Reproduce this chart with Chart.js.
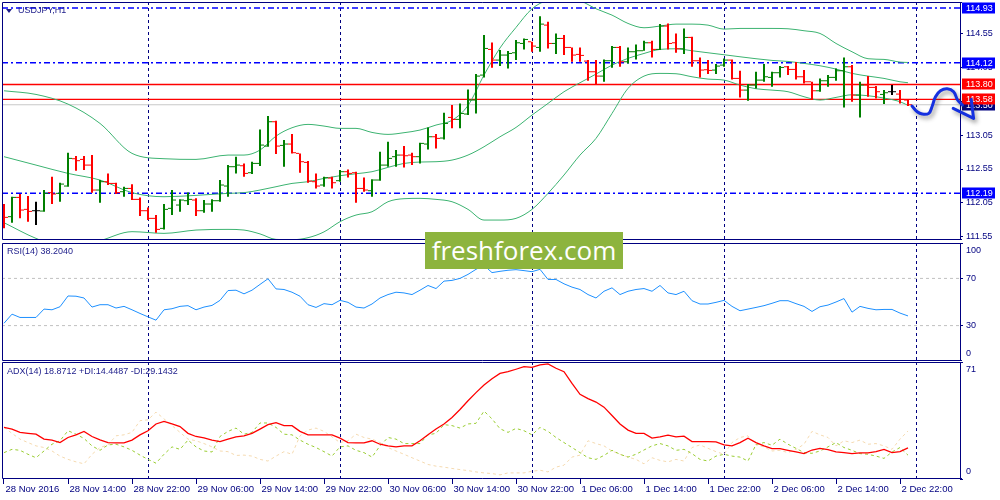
<!DOCTYPE html>
<html><head><meta charset="utf-8">
<script src="https://cdn.jsdelivr.net/npm/chart.js@4.4.0/dist/chart.umd.min.js"></script>
<style>
html,body{margin:0;padding:0;background:#fff;width:1000px;height:500px;overflow:hidden;position:relative;font-family:'Liberation Sans',Arial,sans-serif;}
canvas{position:absolute;left:2px;}
#cP{top:2px;width:998px;height:238px}
#cR{top:243px;width:998px;height:118px}
#cA{top:362px;width:998px;height:138px}
.title{position:absolute;font-size:9px;color:#1c1c8a;white-space:nowrap;line-height:11px;}
#wm{position:absolute;left:425px;top:232px;width:198px;height:37px;background:#8db43e;color:#fff;font-family:'Open Sans',sans-serif;font-size:26px;line-height:36px;text-align:center;}
#tri{position:absolute;left:6px;top:9px;width:0;height:0;border-left:3.5px solid transparent;border-right:3.5px solid transparent;border-top:4px solid #1c1c8a;}
</style></head><body>
<canvas id="cP" width="998" height="238"></canvas>
<canvas id="cR" width="998" height="118"></canvas>
<canvas id="cA" width="998" height="138"></canvas>
<div id="tri"></div>
<div class="title" style="left:18px;top:5px">USDJPY,H1</div>
<div class="title" style="left:7px;top:246px">RSI(14) 38.2040</div>
<div class="title" style="left:7px;top:366px">ADX(14) 18.8712 +DI:14.4487 -DI:29.1432</div>
<div id="wm">freshforex.com</div>
<script>
// ---------- DATA (USDJPY H1, bar 0 = 28 Nov 2016 06:00) ----------
const opens = [111.992,111.845,112.130,111.953,111.933,111.928,112.200,112.190,112.298,112.702,
112.692,112.608,112.239,112.362,112.337,112.214,112.263,112.101,111.933,111.820,
111.672,111.968,112.017,112.081,112.091,111.933,112.032,112.081,112.298,112.584,
112.598,112.495,112.633,112.889,113.249,112.899,112.919,112.781,112.648,112.362,
112.313,112.416,112.377,112.510,112.495,112.263,112.229,112.387,112.608,112.732,
112.756,112.756,112.732,112.919,113.027,113.008,113.313,113.284,113.363,113.570,
113.939,114.319,114.161,114.235,114.269,114.407,114.432,114.348,114.678,114.407,
114.481,114.348,114.245,114.146,113.988,113.924,114.151,114.348,114.136,114.284,
114.299,114.417,114.319,114.664,114.417,114.328,114.496,114.151,114.018,114.013,
114.087,114.161,113.890,113.717,113.791,113.865,113.905,113.974,114.062,114.023,
113.914,113.840,113.707,113.855,113.905,114.003,114.062,113.643,113.791,113.757,
113.653,113.693,113.658,113.570];
const highs = [112.032,112.140,112.180,112.150,112.066,112.239,112.436,112.347,112.791,112.741,
112.741,112.756,112.387,112.485,112.347,112.288,112.323,112.130,111.982,111.869,
112.032,112.239,112.101,112.204,112.116,112.091,112.101,112.387,112.608,112.732,
112.633,112.658,113.136,113.333,113.264,112.978,113.067,112.781,112.668,112.485,
112.436,112.436,112.534,112.544,112.510,112.426,112.397,112.806,112.953,112.830,
112.889,112.791,112.939,113.165,113.067,113.382,113.496,113.520,113.727,113.954,
114.531,114.422,114.309,114.294,114.457,114.481,114.432,114.811,114.728,114.555,
114.531,114.348,114.348,114.161,114.161,114.171,114.368,114.368,114.348,114.393,
114.447,114.447,114.693,114.703,114.555,114.629,114.506,114.200,114.161,114.102,
114.186,114.171,114.003,113.806,113.988,114.102,113.988,114.072,114.072,114.131,
114.013,113.840,113.890,113.939,114.038,114.200,114.087,113.840,113.924,113.776,
113.717,113.791,113.717,113.579];
const lows = [111.672,111.756,111.820,111.771,111.721,111.918,112.032,112.066,112.288,112.525,
112.534,112.200,112.051,112.313,112.180,112.140,112.091,111.855,111.795,111.608,
111.657,111.869,111.918,112.017,111.855,111.904,111.918,112.066,112.140,112.485,
112.436,112.475,112.594,112.879,112.771,112.584,112.781,112.495,112.347,112.263,
112.288,112.263,112.362,112.426,112.051,112.214,112.140,112.377,112.584,112.584,
112.574,112.608,112.633,112.840,112.855,112.988,113.151,113.151,113.348,113.372,
113.905,114.047,114.072,114.038,114.161,114.319,114.284,114.284,114.333,114.250,
114.235,114.136,114.136,113.855,113.806,113.840,114.047,114.062,114.112,114.171,
114.299,114.200,114.309,114.319,114.269,114.250,114.062,113.905,113.954,113.954,
114.062,113.875,113.609,113.560,113.742,113.840,113.767,113.905,113.939,113.875,
113.816,113.570,113.693,113.767,113.855,113.461,113.545,113.313,113.619,113.594,
113.510,113.643,113.520,113.481];
const closes = [111.835,112.130,111.943,111.923,111.933,112.190,112.180,112.327,112.707,112.673,
112.608,112.239,112.362,112.337,112.200,112.263,112.101,111.933,111.820,111.657,
111.953,112.091,112.091,112.101,111.933,112.032,112.081,112.313,112.584,112.608,
112.485,112.633,112.904,113.249,112.889,112.919,112.791,112.658,112.372,112.298,
112.421,112.347,112.510,112.485,112.263,112.239,112.387,112.608,112.707,112.756,
112.746,112.732,112.929,113.027,113.003,113.224,113.284,113.372,113.570,113.924,
114.333,114.161,114.235,114.259,114.417,114.466,114.368,114.693,114.407,114.481,
114.348,114.235,114.230,113.988,113.924,114.151,114.348,114.136,114.284,114.299,
114.417,114.319,114.664,114.407,114.328,114.496,114.151,114.013,114.008,114.072,
114.161,113.890,113.717,113.791,113.865,113.914,113.974,114.052,114.023,113.914,
113.840,113.707,113.855,113.905,114.003,114.062,113.643,113.791,113.757,113.693,
113.678,113.693,113.579,113.500];

// Bollinger Bands (20) read at sampled bars
const bbIdx = [0,4,8,12,16,20,24,28,30,32,34,36,38,40,42,44,46,48,50,52,54,56,58,60,62,64,66,68,70,72,74,76,78,80,82,84,86,88,90,92,94,96,98,100,102,104,106,108,110,112,113];
const bbUpper = [113.707,113.653,113.510,113.224,112.781,112.702,112.692,112.756,112.756,112.830,113.037,113.160,113.210,113.185,113.151,113.151,113.091,113.062,113.087,113.126,113.200,113.270,113.490,113.939,114.340,114.644,114.920,115.050,115.100,115.040,114.920,114.826,114.703,114.639,114.664,114.693,114.693,114.678,114.619,114.629,114.629,114.629,114.624,114.595,114.555,114.407,114.284,114.181,114.171,114.131,114.126];
const bbMiddle = [112.732,112.608,112.485,112.387,112.200,112.140,112.160,112.190,112.200,112.239,112.288,112.337,112.362,112.411,112.451,112.480,112.510,112.574,112.633,112.653,112.658,112.682,112.756,112.879,113.027,113.165,113.348,113.520,113.693,113.826,113.954,114.087,114.186,114.259,114.319,114.328,114.299,114.269,114.240,114.210,114.181,114.156,114.141,114.112,114.077,114.028,113.964,113.924,113.890,113.840,113.826];
const bbLower = [111.756,111.524,111.376,111.490,111.623,111.598,111.647,111.657,111.647,111.590,111.509,111.504,111.534,111.620,111.771,111.869,111.918,112.066,112.111,112.116,112.101,112.066,111.953,111.795,111.795,111.820,111.953,112.190,112.461,112.756,113.003,113.372,113.742,113.924,113.964,113.959,113.914,113.880,113.865,113.791,113.737,113.717,113.693,113.619,113.570,113.609,113.648,113.634,113.599,113.545,113.491];

const rsi = [32.0,39.7,36.9,36.9,36.9,44.0,43.4,46.0,55.1,54.9,
53.4,45.7,47.7,47.7,44.9,46.3,43.4,40.3,37.4,34.6,
43.4,44.3,46.3,46.9,43.4,45.7,47.1,51.4,59.7,60.0,
56.9,60.0,64.9,69.7,61.1,60.6,58.3,54.9,47.7,45.4,
48.6,47.7,51.4,49.7,45.7,44.9,48.3,53.4,56.3,58.3,
57.7,56.3,60.0,64.0,61.4,67.7,68.3,70.0,73.4,77.7,
81.1,74.9,76.0,76.9,77.4,76.6,75.7,77.7,69.1,69.1,
65.4,62.6,60.6,56.3,53.4,59.1,62.0,56.3,59.1,60.6,
61.4,59.1,64.0,57.7,56.3,59.1,51.1,48.3,48.3,49.7,
51.4,46.3,42.6,44.0,45.4,46.9,48.9,51.1,51.1,48.6,
46.3,42.0,46.0,47.4,50.0,52.9,41.4,46.3,44.6,43.4,
43.7,43.7,40.6,38.2];

const adx = [31.3,30.3,28.3,27.7,27.2,24.2,23.6,22.1,25.2,26.8,
28.9,25.8,23.8,22.1,21.9,21.9,23.6,26.8,29.3,33.4,
35.0,33.4,31.8,27.7,25.8,25.0,23.6,22.7,24.2,25.6,
26.2,27.7,30.3,33.0,34.2,32.4,32.4,28.9,26.8,26.8,
26.8,26.8,24.8,22.1,21.9,21.9,23.2,21.1,20.1,19.5,
20.1,20.1,23.2,26.8,30.3,33.4,37.3,42.2,47.5,52.4,
57.0,60.8,64.1,65.1,66.6,68.2,67.8,69.2,69.9,67.2,
65.1,58.0,51.4,48.8,46.7,43.6,38.5,33.4,29.7,27.7,
27.7,24.8,25.6,26.6,25.6,26.0,22.7,22.7,22.7,22.5,
20.7,20.1,22.1,24.8,22.1,20.1,18.4,18.4,17.4,16.4,
15.4,17.6,18.6,17.8,16.4,16.0,15.4,15.8,15.8,16.6,
18.0,16.0,16.6,18.87];
const plusDI = [16.0,18.0,17.4,15.0,12.9,17.0,21.1,23.2,29.3,27.2,
24.6,20.1,17.4,20.7,21.1,19.5,17.4,14.5,11.9,9.6,
15.0,19.5,18.0,23.6,19.5,17.0,16.4,25.8,28.9,30.9,
27.2,28.3,34.0,34.0,31.3,27.2,26.8,23.6,21.1,19.1,
16.6,13.9,19.5,20.1,17.4,16.0,13.3,20.1,25.2,24.2,
21.5,21.5,21.5,26.8,27.7,33.0,32.4,30.9,33.4,33.8,
41.2,36.5,30.5,28.3,30.7,29.3,26.8,31.3,28.9,25.2,
22.1,19.1,16.0,12.9,11.9,14.3,17.4,15.0,13.3,15.0,
17.6,20.1,21.5,20.1,17.4,18.0,15.4,11.9,10.9,13.9,
15.0,13.9,13.3,10.9,20.9,22.1,20.5,24.2,21.1,18.6,
16.0,15.6,17.0,19.5,22.1,19.1,17.4,15.4,15.0,13.9,
12.5,16.4,19.1,14.45];
const minusDI = [31.3,27.7,24.2,22.1,20.1,19.1,17.0,13.9,11.9,10.4,
9.2,15.0,19.1,20.7,26.2,26.8,28.3,35.4,35.9,40.6,
36.5,32.4,28.3,24.2,23.2,21.5,19.5,17.0,16.6,14.3,
14.5,13.9,11.9,10.9,13.9,16.6,15.0,26.2,29.7,30.9,
28.9,25.6,22.1,23.2,27.2,25.2,24.2,22.1,19.1,17.0,
15.0,12.9,10.9,8.8,7.8,7.2,6.4,5.7,5.1,4.3,
3.7,3.3,2.5,3.7,3.7,3.7,4.7,5.3,4.3,7.2,
8.4,13.3,14.5,23.2,21.5,20.1,17.0,15.0,13.3,11.9,
9.2,12.9,11.3,10.4,11.9,10.9,19.1,20.7,18.6,16.6,
15.0,22.1,25.2,26.2,20.7,19.5,17.0,17.4,16.0,18.0,
21.1,28.9,26.8,25.2,20.1,23.2,22.1,23.6,21.1,21.5,
20.1,18.0,24.2,29.14];

const xTickIdx = [0,8,16,24,32,40,48,56,64,72,80,88,96,104,112];
const xTickLabels = ['28 Nov 2016','28 Nov 14:00','28 Nov 22:00','29 Nov 06:00','29 Nov 14:00','29 Nov 22:00','30 Nov 06:00','30 Nov 14:00','30 Nov 22:00','1 Dec 06:00','1 Dec 14:00','1 Dec 22:00','2 Dec 06:00','2 Dec 14:00','2 Dec 22:00'];
const dayIdx = [18,42,66,90,114];
const priceTicks = [111.55,112.05,112.55,113.05,113.55,114.05,114.55];
const rsiTicks = [0,30,70,100];
const rsiLevels = [70,30];
const adxTicks = [0,71];
const blueLevels = [114.93,114.12,112.19];
const redLevels = [113.80,113.58];
const bidPrice = 113.50;
// hand-drawn forecast arrow (bar index, price)
const arrowIdx = [113.5,114.15,114.78,115.6,116.0,116.44,117.06,117.9,118.7,119.2,119.8,120.4,121.2];
const arrowPrice = [113.481,113.397,113.363,113.373,113.471,113.618,113.707,113.737,113.692,113.570,113.496,113.397,113.299];
const arrowHeadIdx = [118.65,121.2,120.9];
const arrowHeadPrice = [113.447,113.299,113.580];

// ---------- STYLE ----------
const UP='#007f00', DOWN='#ff0000', DOJI='#000000', NAVY='#000080', BB='#3cb371';
const X_MIN=-0.25, X_MAX=119.5, AXIS_W=40;
Chart.defaults.font.family = "'Liberation Sans', Arial, sans-serif";
Chart.defaults.font.size = 9;

const pts = (xs, ys) => xs.map((x, k) => ({x, y: ys[k]}));
const idx = closes.map((_, i) => i);
const barColors = closes.map((c, i) => c > opens[i] ? UP : (c < opens[i] ? DOWN : DOJI));

function gridX() {
  return {
    type:'linear', position:'bottom', min:X_MIN, max:X_MAX, offset:false,
    afterBuildTicks: s => { s.ticks = dayIdx.map(v => ({value:v})); },
    afterFit: s => { s.height = 0; s.paddingLeft = 0; s.paddingRight = 0; },
    ticks:{display:false},
    grid:{color:NAVY, lineWidth:1, drawTicks:false, drawOnChartArea:true, offset:false},
    border:{display:false, dash:[3,3]}
  };
}
function yAxis(min, max, tickVals, cb, lh) {
  return {
    type:'linear', position:'right', min, max,
    afterBuildTicks: s => { s.ticks = tickVals.map(v => ({value:v})); },
    afterFit: s => { s.width = AXIS_W; s.paddingTop = 0; s.paddingBottom = 0; },
    ticks:{color:NAVY, font:{size:9, lineHeight:lh || 1.2}, padding:3, autoSkip:false, callback:cb},
    grid:{drawOnChartArea:false, drawTicks:true, tickLength:3, tickColor:NAVY, tickWidth:1},
    border:{display:true, color:NAVY, width:1}
  };
}
function hLine(v, color, width, dash, order) {
  return {type:'line', data:[{x:X_MIN,y:v},{x:X_MAX,y:v}], borderColor:color, borderWidth:width,
          borderDash:dash || [], pointRadius:0, order};
}
function lineDs(data, color, width, dash, order, extra) {
  return Object.assign({type:'line', data, borderColor:color, borderWidth:width, borderDash:dash || [],
          pointRadius:0, tension:0, order}, extra || {});
}
function common(scales) {
  return {
    responsive:false, animation:false, events:[],
    layout:{padding:0, autoPadding:false},
    plugins:{legend:{display:false}, tooltip:{enabled:false}},
    scales
  };
}
const framePlugin = {
  id:'frame',
  afterDatasetsDraw(chart) {
    const {ctx, chartArea:a} = chart;
    ctx.save(); ctx.strokeStyle = NAVY; ctx.lineWidth = 1;
    ctx.beginPath();
    ctx.moveTo(a.right + 2, a.top + 0.5); ctx.lineTo(a.left + 0.5, a.top + 0.5);
    ctx.lineTo(a.left + 0.5, a.bottom - 0.5); ctx.lineTo(a.right + 2, a.bottom - 0.5);
    ctx.stroke(); ctx.restore();
  }
};
const shadowPlugin = {
  id:'shadow',
  beforeDatasetDraw(chart, args) {
    if (chart.data.datasets[args.index].shadow) {
      const c = chart.ctx; c.save();
      c.shadowColor = 'rgba(40,40,40,0.45)'; c.shadowBlur = 4; c.shadowOffsetX = 2; c.shadowOffsetY = 3;
    }
  },
  afterDatasetDraw(chart, args) {
    if (chart.data.datasets[args.index].shadow) chart.ctx.restore();
  }
};
const levelBoxPlugin = {
  id:'levelBoxes',
  beforeDatasetsDraw(chart) {
    const {ctx, chartArea:a} = chart; const ys = chart.scales.y;
    const items = [{v:bidPrice, c:NAVY}]
      .concat(blueLevels.map(v => ({v, c:'#0000ff'})))
      .concat(redLevels.map(v => ({v, c:'#ff0000'})));
    ctx.save(); ctx.font = "9px 'Liberation Sans', Arial, sans-serif"; ctx.textBaseline = 'middle';
    items.forEach(it => {
      const py = ys.getPixelForValue(it.v);
      ctx.fillStyle = it.c; ctx.fillRect(a.right + 2, Math.round(py) - 5.5, 33, 11);
      ctx.fillStyle = '#ffffff'; ctx.fillText(it.v.toFixed(2), a.right + 6, py + 0.5);
    });
    ctx.restore();
  }
};

// ---------- PRICE PANEL ----------
new Chart(document.getElementById('cP'), {
  type:'line',
  data:{datasets:[
    lineDs(pts(arrowIdx, arrowPrice), '#1530e0', 3, [], 0, {tension:0.4, clip:false, shadow:true, borderCapStyle:'round', borderJoinStyle:'round'}),
    lineDs(pts(arrowHeadIdx, arrowHeadPrice), '#1530e0', 3, [], 0, {clip:false, shadow:true, borderCapStyle:'round', borderJoinStyle:'round'}),
    {type:'bar', data:idx.map(i => ({x:i, y:[lows[i], highs[i]]})), backgroundColor:barColors, borderWidth:0, inflateAmount:0, barThickness:2, order:1},
    {type:'scatter', data:idx.map(i => ({x:i - 0.3125, y:opens[i]})), pointStyle:'line', pointRadius:1.5, pointBorderWidth:1, pointBorderColor:barColors, order:1},
    {type:'scatter', data:idx.map(i => ({x:i + 0.3125, y:closes[i]})), pointStyle:'line', pointRadius:1.5, pointBorderWidth:1, pointBorderColor:barColors, order:1},
    lineDs(pts(bbIdx, bbUpper), BB, 1, [], 3, {cubicInterpolationMode:'monotone'}),
    lineDs(pts(bbIdx, bbMiddle), BB, 1, [], 3, {cubicInterpolationMode:'monotone'}),
    lineDs(pts(bbIdx, bbLower), BB, 1, [], 3, {cubicInterpolationMode:'monotone'})
  ].concat(blueLevels.map(v => hLine(v, '#0000ff', 1.5, [6,3,2,3], 4)))
   .concat(redLevels.map(v => hLine(v, '#ff0000', 1.3, [], 4)))
   .concat([hLine(bidPrice, '#c8c8c8', 1, [], 5)])},
  options:common({x:gridX(), y:yAxis(111.50, 115.02, priceTicks, v => v.toFixed(2))}),
  plugins:[levelBoxPlugin, framePlugin, shadowPlugin]
});

// ---------- RSI PANEL ----------
new Chart(document.getElementById('cR'), {
  type:'line',
  data:{datasets:[
    lineDs(pts(idx, rsi), '#1e90ff', 1, [], 1)
  ].concat(rsiLevels.map(v => hLine(v, '#c0c0c0', 1, [3,3], 2)))},
  options:common({x:gridX(), y:yAxis(0, 100, rsiTicks, v => v === 100 ? ['', '100'] : (v === 0 ? ['0', ''] : String(v)), 1.6)}),
  plugins:[framePlugin]
});

// ---------- ADX PANEL ----------
const adxScales = {
  x:gridX(),
  xl:{
    type:'linear', position:'bottom', min:X_MIN, max:X_MAX, offset:false,
    afterBuildTicks: s => { s.ticks = xTickIdx.map(v => ({value:v})); },
    afterFit: s => { s.height = 21; s.paddingLeft = 0; s.paddingRight = 0; },
    ticks:{display:true, autoSkip:false, maxRotation:0, minRotation:0, align:'start', color:NAVY,
           font:{size:9.5}, padding:0, labelOffset:1.5, callback:(v, i) => xTickLabels[i]},
    grid:{drawOnChartArea:false, drawTicks:true, tickLength:5, tickColor:NAVY, tickWidth:1},
    border:{display:false}
  },
  y:yAxis(0, 71, adxTicks, v => v === 71 ? ['', '71'] : ['0', ''], 1.6)
};
new Chart(document.getElementById('cA'), {
  type:'line',
  data:{datasets:[
    lineDs(pts(idx, adx), '#ff0000', 1.3, [], 1),
    lineDs(pts(idx, plusDI), '#9acd32', 1, [3,3], 2),
    lineDs(pts(idx, minusDI), '#f5dab0', 1, [3,3], 3)
  ]},
  options:common(adxScales),
  plugins:[framePlugin]
});
</script>
</body></html>
